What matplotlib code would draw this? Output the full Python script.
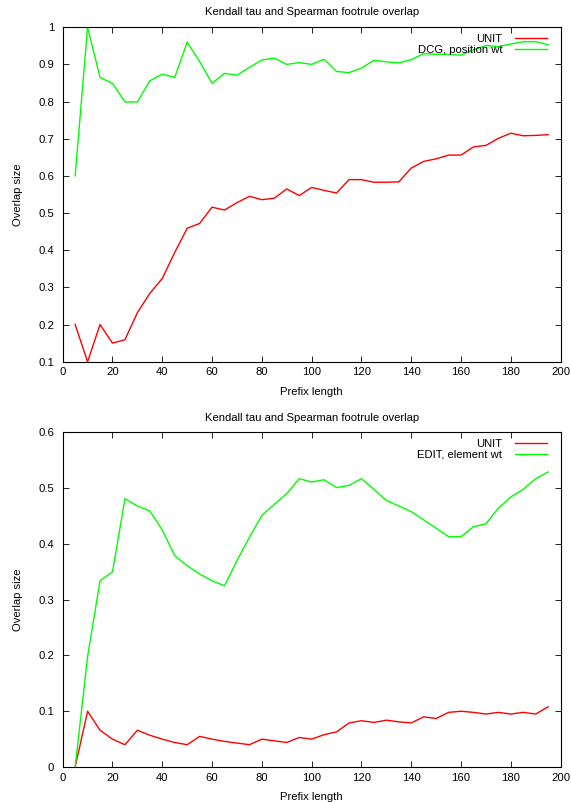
import numpy as np
import matplotlib.pyplot as plt

plt.rcParams['font.family'] = ['Liberation Sans', 'DejaVu Sans']
plt.rcParams['font.size'] = 8.1

prefix = list(range(5, 200, 5))

# top panel
unit_top = [0.20, 0.10, 0.20, 0.15, 0.159, 0.232, 0.284, 0.324, 0.394, 0.459,
            0.472, 0.516, 0.508, 0.528, 0.545, 0.536, 0.540, 0.565, 0.547, 0.569,
            0.561, 0.554, 0.590, 0.590, 0.583, 0.583, 0.584, 0.621, 0.639, 0.646,
            0.656, 0.656, 0.678, 0.682, 0.701, 0.715, 0.708, 0.709, 0.711]
dcg_pos = [0.600, 1.000, 0.865, 0.849, 0.799, 0.799, 0.856, 0.874, 0.865, 0.960,
           0.908, 0.849, 0.876, 0.871, 0.892, 0.912, 0.917, 0.900, 0.905, 0.900,
           0.914, 0.881, 0.878, 0.890, 0.911, 0.907, 0.904, 0.913, 0.929, 0.927,
           0.927, 0.925, 0.939, 0.951, 0.948, 0.955, 0.961, 0.961, 0.953]

# bottom panel
unit_bot = [0.0, 0.100, 0.066, 0.050, 0.040, 0.066, 0.057, 0.050, 0.044, 0.040,
            0.055, 0.050, 0.046, 0.043, 0.040, 0.050, 0.047, 0.044, 0.053, 0.050,
            0.058, 0.063, 0.079, 0.083, 0.080, 0.084, 0.081, 0.079, 0.090, 0.087,
            0.098, 0.100, 0.098, 0.095, 0.098, 0.095, 0.098, 0.095, 0.108]
edit_elem = [0.0, 0.198, 0.334, 0.350, 0.481, 0.468, 0.459, 0.425, 0.379, 0.361,
             0.346, 0.334, 0.325, 0.370, 0.412, 0.451, 0.471, 0.490, 0.517, 0.511,
             0.515, 0.501, 0.505, 0.517, 0.498, 0.478, 0.468, 0.458, 0.443, 0.428,
             0.413, 0.413, 0.431, 0.436, 0.464, 0.484, 0.498, 0.517, 0.529]

title = 'Kendall tau and Spearman footrule overlap'

fig = plt.figure(figsize=(5.71, 8.02), dpi=100)
ax1 = fig.add_axes([0.1098, 0.549, 0.872, 0.417])
ax2 = fig.add_axes([0.1098, 0.0436, 0.872, 0.4173])

panels = [
    (ax1, unit_top, dcg_pos, 'DCG, position wt', (0.1, 1.0), np.arange(0.1, 1.01, 0.1)),
    (ax2, unit_bot, edit_elem, 'EDIT, element wt', (0.0, 0.6), np.arange(0.0, 0.61, 0.1)),
]

for ax, red, green, lab, ylim, yt in panels:
    ax.plot(prefix, red, color='#ff0000', lw=1.0, label='UNIT')
    ax.plot(prefix, green, color='#00ff00', lw=1.0, label=lab)
    ax.set_xlim(0, 200)
    ax.set_ylim(*ylim)
    ax.set_xticks(range(0, 201, 20))
    ax.set_yticks(yt)
    ax.set_yticklabels(['%g' % round(v, 1) for v in yt])
    ax.tick_params(direction='in', top=True, right=True, length=4.5, width=0.6)
    ax.tick_params(axis='y', pad=6)
    ax.tick_params(axis='x', pad=4)
    for s in ax.spines.values():
        s.set_linewidth(0.8)
    ax.set_title(title, fontsize=8.1, pad=8.5)
    ax.set_xlabel('Prefix length', labelpad=7)
    ax.set_ylabel('Overlap size', labelpad=11.5)
    ax.legend(loc='upper right', bbox_to_anchor=(0.982, 0.994), borderaxespad=0,
              frameon=False, markerfirst=False, handlelength=2.85,
              handletextpad=1.15, labelspacing=0.08, fontsize=8.1)

plt.savefig('out.png', dpi=100)
